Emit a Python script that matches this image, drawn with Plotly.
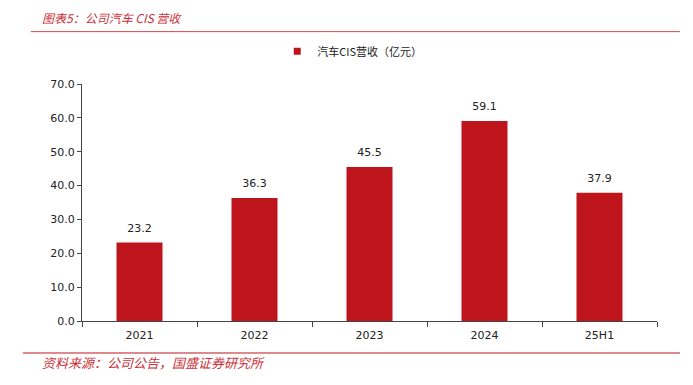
import plotly.graph_objects as go

categories = ["2021", "2022", "2023", "2024", "25H1"]
revenue = [23.2, 36.3, 45.5, 59.1, 37.9]
series_name = "汽车CIS营收（亿元）"
y_ticks = [0, 10, 20, 30, 40, 50, 60, 70]

BAR = "#BE141C"
RED = "#C8323A"
FONT = "Noto Sans CJK SC, DejaVu Sans, sans-serif"
NUMFONT = "Verdana, DejaVu Sans, sans-serif"

fig = go.Figure()
fig.add_trace(go.Bar(
    x=categories, y=revenue, name=series_name,
    marker=dict(color=BAR, line=dict(width=0)),
    width=0.4, showlegend=False,
))
# value labels above bars
fig.add_trace(go.Scatter(
    x=categories, y=revenue, mode="markers+text",
    marker=dict(size=11, opacity=0, color=BAR),
    text=[f"{v:.1f}" for v in revenue], textposition="top center",
    textfont=dict(size=11, color="#222", family=NUMFONT),
    showlegend=False, hoverinfo="skip", cliponaxis=False,
))
# legend entry
fig.add_trace(go.Scatter(
    x=[None], y=[None], mode="markers", name=series_name,
    marker=dict(symbol="square", size=7, color=BAR),
))

fig.update_layout(
    width=685, height=377,
    margin=dict(l=74, r=36, t=76, b=64),
    paper_bgcolor="white", plot_bgcolor="white",
    font=dict(family=FONT, size=11, color="#222"),
    showlegend=True,
    legend=dict(orientation="h", x=0.47, xanchor="center", yref="container", y=0.885,
                yanchor="middle", bgcolor="rgba(0,0,0,0)",
                font=dict(size=11, color="#222"), itemwidth=30),
)

fig.update_xaxes(
    type="category", showline=True, linecolor="#444", linewidth=1,
    ticks="outside", tickson="boundaries", ticklen=5, tickcolor="#444",
    tickfont=dict(size=11, family=NUMFONT, color="#222"),
    ticklabelstandoff=4,
    showgrid=False,
)
fig.update_yaxes(
    range=[0, 70], tickvals=y_ticks, ticktext=[f"{v:.1f}" for v in y_ticks],
    showline=True, linecolor="#444", linewidth=1,
    ticks="outside", ticklen=4, tickcolor="#444",
    tickfont=dict(size=11, family=NUMFONT, color="#222"),
    showgrid=False, zeroline=False,
)

# Title and source
fig.add_annotation(text="<i>图表5：公司汽车 CIS 营收</i>", xref="paper", yref="paper",
                   x=0, xanchor="left", xshift=-42, y=1, yanchor="middle", yshift=67,
                   showarrow=False, font=dict(size=12, color=RED, family=FONT))
fig.add_annotation(text="<i>资料来源：公司公告，国盛证券研究所</i>", xref="paper", yref="paper",
                   x=0, xanchor="left", xshift=-42, y=0, yanchor="middle", yshift=-41,
                   showarrow=False, font=dict(size=13, color=RED, family=FONT))
fig.add_shape(type="line", xref="paper", yref="paper", x0=-0.089, x1=1.04, y0=1.221, y1=1.221,
              line=dict(color="#D9474E", width=1))
fig.add_shape(type="line", xref="paper", yref="paper", x0=-0.103, x1=1.04, y0=-0.135, y1=-0.135,
              line=dict(color="#C0141C", width=1))

fig.write_html("out.html")
